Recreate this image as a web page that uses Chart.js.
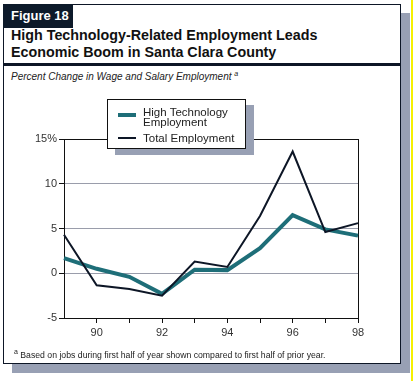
<!DOCTYPE html>
<html>
<head>
<meta charset="utf-8">
<script src="https://cdn.jsdelivr.net/npm/chart.js@4"></script>
<style>
  body { margin: 0; background: #fff; font-family: "Liberation Sans", Arial, sans-serif; }
  #page { position: relative; width: 413px; height: 381px; overflow: hidden; }
  #frame { position: absolute; left: 3px; top: 4px; width: 396px; height: 358px; border: 1.5px solid #0d1626; background: #fff; box-shadow: 9px 9px 0 #98a0b4; }
  #yellow { position: absolute; left: 411px; top: 0; width: 2px; height: 381px; background: #f5f000; }
  #fig { position: absolute; left: 3px; top: 4px; width: 70px; height: 24px; background: #0d1a2a; color: #fff; font-weight: bold; font-size: 13px; line-height: 24px; padding-left: 8px; box-sizing: border-box; }
  #title { position: absolute; left: 11px; top: 27px; font-weight: bold; font-size: 14.3px; line-height: 16.5px; color: #111; }
  #rule { position: absolute; left: 3px; top: 63px; width: 398px; height: 3px; background: #0d1626; }
  #sub { position: absolute; left: 11px; top: 70px; font-style: italic; font-size: 10px; color: #222; }
  #sub sup, #foot sup { font-size: 7px; }
  #chartwrap { position: absolute; left: 0; top: 120px; width: 400px; height: 230px; }
  #legend { position: absolute; left: 107px; top: 99px; width: 139px; height: 50px; border: 1px solid #111; background: #fff; box-shadow: 8px 6px 0 #98a0b4; box-sizing: border-box; }
  .sw { position: absolute; left: 10px; width: 18px; }
  .lt { position: absolute; left: 35px; font-size: 11.5px; line-height: 10px; color: #222; }
  #foot { position: absolute; left: 14px; top: 348px; font-size: 8.7px; color: #222; }
</style>
</head>
<body>
<div id="page">
  <div id="yellow"></div>
  <div id="frame"></div>
  <div id="fig">Figure 18</div>
  <div id="title">High Technology-Related Employment Leads<br>Economic Boom in Santa Clara County</div>
  <div id="rule"></div>
  <div id="sub">Percent Change in Wage and Salary Employment <sup>a</sup></div>
  <div id="chartwrap"><canvas id="chart"></canvas></div>
  <div id="legend">
    <div class="sw" style="top:13px;height:4px;background:#1e6e78"></div>
    <div class="lt" style="top:7px">High Technology<br>Employment</div>
    <div class="sw" style="top:37px;height:2px;background:#0d1626"></div>
    <div class="lt" style="top:33px">Total Employment</div>
  </div>
  <div id="foot"><sup>a</sup> Based on jobs during first half of year shown compared to first half of prior year.</div>
</div>
<script>
// years 1989-1998, percent change
const years = ['89', '90', '91', '92', '93', '94', '95', '96', '97', '98'];
const highTech = [1.7, 0.5, -0.4, -2.3, 0.4, 0.35, 2.8, 6.5, 4.9, 4.2];
const totalEmp = [4.3, -1.35, -1.75, -2.5, 1.3, 0.7, 6.4, 13.6, 4.6, 5.6];
const yTicks = [-5, 0, 5, 10, 15];

const fontFam = '"Liberation Sans", Arial, sans-serif';

new Chart(document.getElementById('chart'), {
    type: 'line',
    data: {
        labels: years,
        datasets: [
            { label: 'Total Employment', data: totalEmp, borderColor: '#0d1626', borderWidth: 2, pointRadius: 0, tension: 0, order: 0 },
            { label: 'High Technology Employment', data: highTech, borderColor: '#1e6e78', borderWidth: 4, pointRadius: 0, tension: 0, order: 1 }
        ]
    },
    options: {
        responsive: true, maintainAspectRatio: false, animation: false,
        layout: { padding: { top: 19, right: 42, left: 0, bottom: 0 } },
        plugins: { legend: { display: false }, tooltip: { enabled: false } },
        scales: {
            x: {
                offset: false,
                grid: {
                    color: c => c.index === years.length - 1 ? '#111' : 'rgba(0,0,0,0)',
                    tickColor: c => c.index === 0 ? 'rgba(0,0,0,0)' : '#111',
                    tickLength: 5
                },
                border: { color: '#111', width: 1 },
                ticks: {
                    autoSkip: false, maxRotation: 0, color: '#333', padding: 3,
                    font: { family: fontFam, size: 11 },
                    callback: (v, i) => i % 2 ? years[i] : ''
                },
                afterFit: s => { s.height = 32; }
            },
            y: {
                min: -5, max: 15,
                afterBuildTicks: s => { s.ticks = yTicks.map(v => ({ value: v })); },
                grid: {
                    color: c => c.tick.value === 15 ? '#111' : (c.tick.value === -5 ? 'rgba(0,0,0,0)' : '#9a9dab'),
                    tickColor: '#111',
                    tickLength: 5
                },
                border: { color: '#111', width: 1 },
                ticks: {
                    color: '#333', padding: 2,
                    font: { family: fontFam, size: 11 },
                    callback: v => v === 15 ? '15%' : v
                },
                afterFit: s => { s.width = 64; }
            }
        }
    }
});
</script>
</body>
</html>
